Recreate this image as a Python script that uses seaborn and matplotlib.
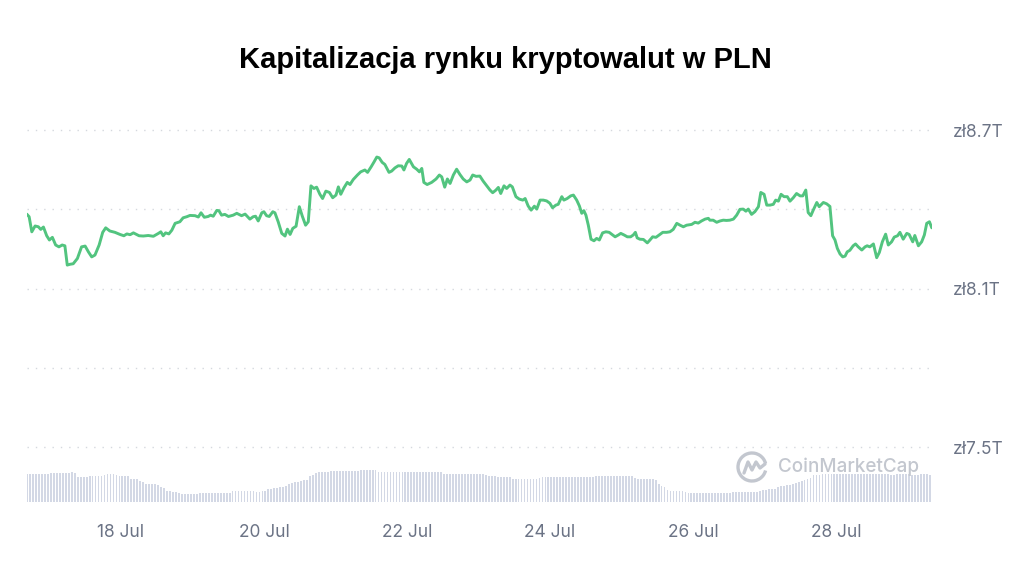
import matplotlib
matplotlib.use("Agg")
import matplotlib.pyplot as plt
import matplotlib.dates as mdates
from matplotlib.patches import Arc
from matplotlib.lines import Line2D
import pandas as pd
import seaborn as sns

# ===== DATA =====
# hours since 16 Jul 00:00
hours = [
    16.4, 17.2, 18.1, 19.2, 20.3, 21.1, 22.0, 23.1, 24.0, 25.0, 26.1, 27.2, 28.3, 29.2, 30.0, 30.9,
    32.0, 33.4, 34.8, 36.0, 37.1, 38.2, 39.3, 40.7, 41.9, 42.9, 44.3, 46.0, 47.7, 49.0, 50.0, 51.1,
    52.2, 54.1, 55.5, 57.2, 58.9, 60.6, 61.4, 62.2, 63.0, 64.1, 65.1, 66.2, 67.8, 68.9, 70.1, 71.2,
    72.9, 74.0, 74.9, 76.0, 77.3, 78.1, 79.0, 80.2, 80.9, 81.8, 82.9, 84.1, 85.7, 86.9, 88.5, 89.7,
    91.3,
    92.4, 93.2, 94.1, 95.3, 96.0, 96.9, 97.8, 99.0, 99.7, 100.8, 102.0, 103.1, 103.9, 104.8, 105.7,
    106.8, 107.9, 108.9, 110.0, 110.9, 111.8, 112.8, 113.7, 114.8, 115.7, 116.8, 118.0, 119.1, 120.2,
    121.0, 121.8, 122.9, 124.0, 124.9, 126.0, 127.4, 128.5, 129.9, 130.8, 132.0, 133.0, 133.9, 134.7,
    135.7, 136.6, 138.0, 138.9, 140.0, 141.1, 142.3, 143.0, 143.9, 144.8, 146.2, 147.3, 148.2, 149.0,
    149.7, 150.8, 152.3, 153.8, 154.9, 155.7, 156.7, 157.6, 158.5, 159.6, 160.7, 161.8, 162.9, 164.1,
    165.2, 166.1, 167.2, 168.5,
    169.6, 170.8, 171.9, 172.8, 173.9, 174.7, 175.5, 176.6, 177.5, 178.6, 179.4, 180.6, 181.7, 182.9,
    183.7, 184.7, 185.7, 186.8, 187.6, 188.7, 189.8, 190.9, 192.0, 192.9, 194.0, 194.8, 196.0, 196.7,
    197.8, 199.0, 199.9, 201.0, 201.9, 202.7, 203.4, 204.1, 204.9, 205.8, 206.8, 207.7, 208.6, 209.7,
    210.8, 211.9, 213.1, 213.9, 215.0, 215.8, 216.9, 218.0, 219.1, 220.0, 220.7, 221.3, 222.2, 223.4,
    224.7, 225.6, 226.5, 227.6, 228.7, 229.9, 231.2, 232.3, 233.4, 234.6, 235.7, 236.8, 237.9, 239.6,
    240.7, 241.8, 242.9, 244.1, 245.2, 245.7,
    246.8, 248.0, 249.1, 250.2, 251.3, 252.4, 253.6, 254.7, 255.8, 256.9, 257.8, 258.6, 259.7, 260.8,
    262.0, 262.8, 263.9, 264.8, 265.9, 267.0, 267.8, 268.7, 269.6, 270.6, 271.7, 272.6, 273.7, 274.8,
    276.0, 276.9, 277.9, 278.7, 279.6, 280.4, 281.6, 282.4, 283.8, 284.9, 286.0, 286.9, 287.7, 288.5,
    289.4, 290.3, 291.1, 291.8, 292.7, 293.8, 294.6, 295.5, 296.7, 297.8, 298.5, 299.4, 300.6, 301.7,
    302.6, 303.6, 304.7, 305.6, 306.7, 307.6, 308.7, 309.5, 310.6, 311.8, 312.6, 313.8, 314.5, 315.7,
    316.8, 317.7, 318.5, 319.4, 320.2,
]

# market cap, trillions PLN
market_cap = [
    8.382, 8.372, 8.315, 8.337, 8.334, 8.324, 8.333, 8.300, 8.284, 8.294, 8.265, 8.258, 8.265, 8.262,
    8.189, 8.192, 8.194, 8.214, 8.258, 8.261, 8.239, 8.220, 8.227, 8.265, 8.313, 8.330, 8.318, 8.313,
    8.305, 8.300, 8.307, 8.304, 8.311, 8.300, 8.299, 8.301, 8.298, 8.309, 8.315, 8.300, 8.311, 8.307,
    8.321, 8.347, 8.353, 8.368, 8.372, 8.377, 8.376, 8.371, 8.387, 8.370, 8.373, 8.378, 8.374, 8.396,
    8.395, 8.378, 8.381, 8.373, 8.378, 8.385, 8.376, 8.382, 8.363,
    8.372, 8.374, 8.356, 8.387, 8.391, 8.376, 8.373, 8.391, 8.387, 8.353, 8.309, 8.299, 8.325, 8.305,
    8.328, 8.336, 8.410, 8.374, 8.340, 8.353, 8.489, 8.479, 8.484, 8.457, 8.441, 8.469, 8.464, 8.444,
    8.454, 8.485, 8.457, 8.482, 8.502, 8.494, 8.513, 8.530, 8.542, 8.549, 8.540, 8.561, 8.580, 8.598,
    8.595, 8.578, 8.570, 8.540, 8.545, 8.557, 8.565, 8.564, 8.549, 8.574, 8.589, 8.561, 8.552, 8.542,
    8.555, 8.502, 8.494, 8.502, 8.515, 8.530, 8.523, 8.484, 8.515, 8.498, 8.530, 8.552, 8.532, 8.515,
    8.504, 8.511, 8.530, 8.525, 8.526,
    8.507, 8.489, 8.473, 8.463, 8.473, 8.483, 8.460, 8.489, 8.479, 8.492, 8.485, 8.448, 8.439, 8.435,
    8.441, 8.413, 8.397, 8.412, 8.401, 8.435, 8.435, 8.432, 8.423, 8.406, 8.416, 8.419, 8.448, 8.435,
    8.441, 8.451, 8.454, 8.435, 8.413, 8.385, 8.395, 8.378, 8.340, 8.287, 8.281, 8.290, 8.284, 8.311,
    8.315, 8.313, 8.303, 8.296, 8.303, 8.309, 8.303, 8.296, 8.296, 8.303, 8.313, 8.292, 8.287, 8.286,
    8.273, 8.284, 8.296, 8.294, 8.303, 8.313, 8.313, 8.315, 8.324, 8.347, 8.340, 8.334, 8.340, 8.343,
    8.351, 8.348, 8.356, 8.363, 8.366, 8.359,
    8.359, 8.351, 8.356, 8.359, 8.358, 8.359, 8.363, 8.378, 8.400, 8.401, 8.393, 8.401, 8.381, 8.391,
    8.410, 8.464, 8.457, 8.416, 8.416, 8.419, 8.435, 8.431, 8.457, 8.448, 8.448, 8.431, 8.444, 8.460,
    8.451, 8.451, 8.473, 8.388, 8.376, 8.397, 8.426, 8.410, 8.426, 8.421, 8.411, 8.300, 8.284, 8.252,
    8.231, 8.220, 8.223, 8.239, 8.245, 8.262, 8.269, 8.258, 8.246, 8.258, 8.262, 8.258, 8.269, 8.217,
    8.237, 8.277, 8.306, 8.265, 8.277, 8.295, 8.300, 8.313, 8.287, 8.309, 8.305, 8.277, 8.301, 8.262,
    8.277, 8.303, 8.347, 8.353, 8.330,
]

# hourly 24h volume (arbitrary units, from 16 Jul 16:30)
volume = [
    277, 277, 276, 276, 276, 276, 277, 285, 286, 286, 287, 287, 287, 293, 295, 297, 292,
    250, 248, 247, 248, 258, 260, 260, 261, 262, 275, 276, 277, 276, 275, 263, 262, 260, 258,
    235, 232, 230, 210, 205, 182, 180, 178, 176, 175, 150, 140, 110, 106, 104, 102,
    86, 84, 82, 81, 80, 80, 81, 92, 92, 93, 93, 93, 93, 93, 94, 94, 94, 95,
    108, 109, 110, 110, 110, 111, 111, 112, 102, 105, 110, 115, 130, 135, 138, 140,
    150, 155, 158, 185, 192, 196, 200, 215, 220, 225, 265, 275, 292, 297, 298, 300,
    305, 306, 308, 308, 309, 310, 310, 310, 311, 311, 312, 318, 320, 321, 320, 322, 320,
    305, 304, 303, 303, 304, 304, 303, 303, 302, 303, 304, 303, 303, 303, 302, 302, 303, 303,
    302, 302, 301, 300,
    282, 281, 281, 280, 280, 280, 281, 281, 280, 279, 279, 278, 278, 276, 274,
    265, 262, 258, 255, 252, 250, 248, 246, 228, 227, 226, 226, 227, 227, 228, 228, 229,
    245, 246, 247, 247, 247, 248, 248, 248, 247, 247, 247, 248, 249, 250, 250, 250, 251, 251, 252,
    258, 260, 260, 261, 261, 261, 262, 262, 261, 260, 259, 258, 256,
    236, 234, 232, 230, 229, 228, 226, 224, 180, 160, 150, 118, 115, 113, 112, 112, 111,
    96, 95, 95, 94, 94, 93, 93, 93, 93, 92, 92, 92, 92, 93, 93, 94,
    98, 99, 100, 100, 100, 101, 101, 102, 103, 115, 120, 124, 127, 130, 133,
    155, 160, 165, 170, 175, 178, 195, 202, 208, 225, 232, 238,
    268, 272, 275, 276, 277, 277, 278, 278, 277, 277, 276, 276, 277, 277, 278, 278, 277, 276,
    276, 277, 277, 278, 277, 277, 276, 276, 275, 275, 276, 276, 277, 277, 276, 275, 275, 274,
    276, 279, 280, 274,
]

y_ticks = [7.5, 7.8, 8.1, 8.4, 8.7]
y_labels = ["zł7.5T", "", "zł8.1T", "", "zł8.7T"]
x_tick_days = ["2024-07-18", "2024-07-20", "2024-07-22", "2024-07-24", "2024-07-26", "2024-07-28"]

base = pd.Timestamp("2024-07-16")
df = pd.DataFrame({"time": base + pd.to_timedelta(hours, unit="h"), "cap": market_cap})
vol_time = base + pd.Timedelta(hours=16.5) + pd.to_timedelta(range(len(volume)), unit="h")

# ===== STYLE =====
sns.set_theme(style="white")
plt.rcParams["font.family"] = ["Inter", "DejaVu Sans"]

W, H = 1024, 567
fig = plt.figure(figsize=(W / 100, H / 100), dpi=100)
left, right, top, bottom = 26.6, 932.1, 100, 502
ax = fig.add_axes([left / W, 1 - bottom / H, (right - left) / W, (bottom - top) / H])

# volume bars behind the line
axv = ax.twinx()
axv.bar(vol_time, volume, width=0.6 / 24, color="#d3d8e5", linewidth=0, align="center")
axv.set_ylim(0, 4020)
axv.set_yticks([])
for s in axv.spines.values():
    s.set_visible(False)

ax.set_zorder(axv.get_zorder() + 1)
ax.patch.set_visible(False)

sns.lineplot(data=df, x="time", y="cap", ax=ax, color="#52c47f", linewidth=2.1,
             estimator=None, sort=True)

ax.set_xlim(base + pd.Timedelta(hours=16.35), base + pd.Timedelta(hours=320.3))
ax.set_ylim(7.292, 8.814)
ax.set_yticks(y_ticks)
ax.set_yticklabels(y_labels)
ax.yaxis.tick_right()
ax.tick_params(axis="y", length=0, pad=15, labelsize=12.5, labelcolor="#6b7385")

ax.set_xticks(pd.to_datetime(x_tick_days))
ax.xaxis.set_major_formatter(mdates.DateFormatter("%-d %b"))
ax.tick_params(axis="x", length=0, pad=16, labelsize=12.5, labelcolor="#6b7385")
ax.set_xlabel("")
ax.set_ylabel("")

ax.grid(axis="y", color="#d5d8de", linestyle=(0, (1, 5)), linewidth=1)
ax.grid(axis="x", visible=False)
for s in ax.spines.values():
    s.set_visible(False)

fig.text(505.5 / W, 1 - 60 / H, "Kapitalizacja rynku kryptowalut w PLN",
         ha="center", va="center", fontsize=21, fontweight="bold",
         family=["Liberation Sans", "DejaVu Sans"], color="#000000")

# CoinMarketCap watermark
wm = "#c3c7cf"
cx, cy, r = 752 / W, 1 - 467 / H, 14
fig.add_artist(Arc((cx, cy), 2 * r / W, 2 * r / H, theta1=25, theta2=335,
                   transform=fig.transFigure, color=wm, linewidth=2.4))
mx = [-8, -4, 0, 4, 8, 13]
my = [-6, 5, -3, 5, -1, 3]
fig.add_artist(Line2D([cx + a / W for a in mx], [cy + b / H for b in my],
                      transform=fig.transFigure, color=wm, linewidth=2.4,
                      solid_joinstyle="round"))
fig.text(778 / W, 1 - 467 / H, "CoinMarketCap", ha="left", va="center",
         fontsize=13.6, color=wm, fontweight="medium")

fig.savefig("out.png", dpi=100)
